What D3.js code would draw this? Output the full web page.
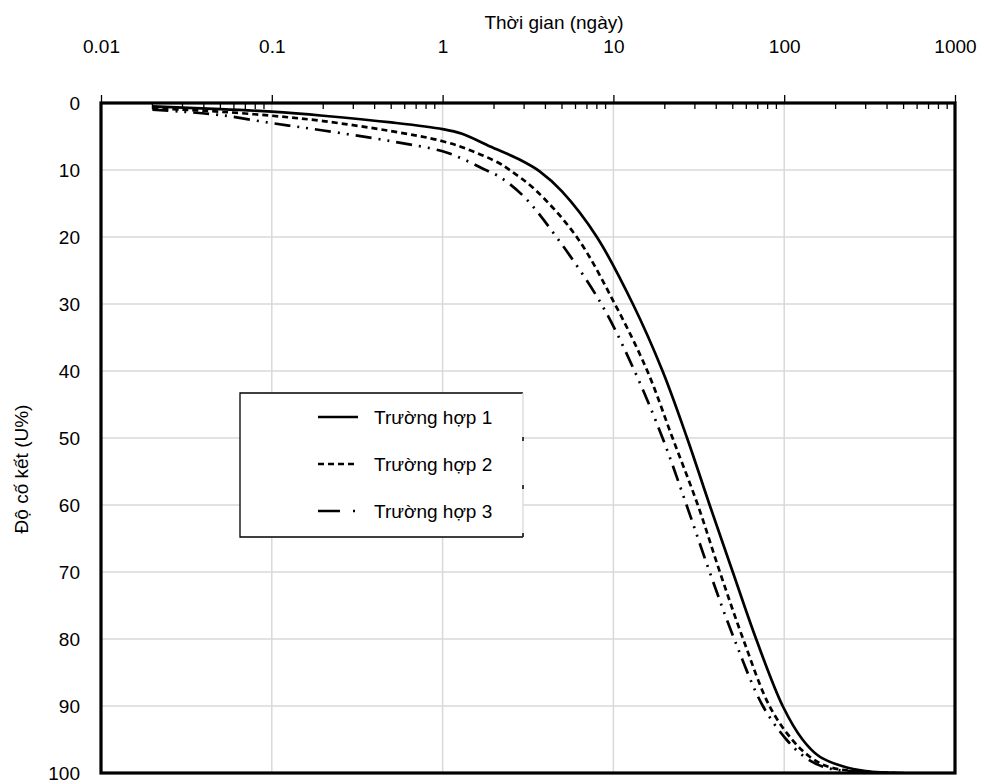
<!DOCTYPE html>
<html>
<head>
<meta charset="utf-8">
<script src="https://cdn.jsdelivr.net/npm/d3@7"></script>
<style>
  html, body { margin: 0; padding: 0; background: #fff; }
  svg text { font-family: "Liberation Sans", Arial, sans-serif; fill: #000; }
</style>
</head>
<body>
<svg id="chart" width="984" height="784"></svg>
<script>
// Consolidation degree U (%) versus time (days), three cases
const seriesNames = ["Trường hợp 1", "Trường hợp 2", "Trường hợp 3"];

const timeCase1 = [0.02, 0.03, 0.05, 0.1, 0.2, 0.5, 1, 1.3, 1.9, 2.8, 3.7, 5, 8, 13, 19.4, 27, 36.6, 50, 68.5, 98, 128, 160, 220, 300, 500];
const uCase1    = [0.5, 0.7, 0.9, 1.3, 1.9, 2.9, 3.9, 4.6, 6.5, 8.4, 10.2, 13.2, 20, 30, 40, 50, 60, 70, 80, 90, 95, 97.5, 99, 99.7, 100];

const timeCase2 = [0.02, 0.03, 0.05, 0.1, 0.2, 0.5, 1, 1.5, 2.15, 2.47, 3.5, 6.1, 10.2, 15.8, 22.2, 31.2, 42, 57.5, 82, 111, 140, 178, 250, 450];
const uCase2    = [0.8, 1.0, 1.3, 1.9, 2.7, 4.2, 5.7, 7.2, 9.0, 10, 13, 20, 30, 40, 50, 60, 70, 80, 90, 95, 97.5, 99, 99.7, 100];

const timeCase3 = [0.02, 0.03, 0.05, 0.1, 0.2, 0.5, 1, 1.3, 1.69, 2.15, 3, 4.64, 8.5, 13.3, 19.4, 26.8, 36.6, 51, 75, 103, 130, 166, 230, 400];
const uCase3    = [1.0, 1.3, 1.8, 3.0, 4.1, 5.7, 7.2, 8.3, 9.7, 11.0, 14, 20, 30, 40, 50, 60, 70, 80, 90, 95, 97.5, 99, 99.7, 100];

const xTickValues = [0.01, 0.1, 1, 10, 100, 1000];
const xTickLabels = ["0.01", "0.1", "1", "10", "100", "1000"];
const yTickValues = [0, 10, 20, 30, 40, 50, 60, 70, 80, 90, 100];

const xTitle = "Thời gian (ngày)";
const yTitle = "Độ cố kết (U%)";

const series = [
  { name: seriesNames[0], t: timeCase1, u: uCase1, dash: null },
  { name: seriesNames[1], t: timeCase2, u: uCase2, dash: "6,4" },
  { name: seriesNames[2], t: timeCase3, u: uCase3, dash: "16,7,2,7,2,7" }
];

const svg = d3.select("#chart");
const plotLeft = 101, plotRight = 955, plotTop = 103, plotBottom = 773;

const x = d3.scaleLog().domain([0.01, 1000]).range([plotLeft, plotRight]);
const y = d3.scaleLinear().domain([0, 100]).range([plotTop, plotBottom]);

// grid
const grid = svg.append("g").attr("stroke", "#d9d9d9").attr("stroke-width", 1.5);
xTickValues.slice(1, -1).forEach(v => {
  grid.append("line").attr("x1", x(v)).attr("x2", x(v)).attr("y1", plotTop).attr("y2", plotBottom);
});
yTickValues.slice(1, -1).forEach(v => {
  grid.append("line").attr("x1", plotLeft).attr("x2", plotRight).attr("y1", y(v)).attr("y2", y(v));
});

// top axis: major ticks outward, minor ticks inward
const minorTicks = [];
for (let d = 0.01; d < 999; d *= 10) {
  for (let k = 2; k <= 9; k++) minorTicks.push(d * k);
}
svg.append("g").selectAll("line.minor").data(minorTicks).join("line")
  .attr("x1", d => x(d)).attr("x2", d => x(d))
  .attr("y1", plotTop).attr("y2", plotTop + 6)
  .attr("stroke", "#000").attr("stroke-width", 1.3);

const xAxis = d3.axisTop(x)
  .tickValues(xTickValues)
  .tickFormat((d, i) => xTickLabels[i])
  .tickSize(8).tickPadding(42);
const gx = svg.append("g").attr("transform", `translate(0,${plotTop})`).call(xAxis);
gx.select(".domain").remove();
gx.selectAll(".tick line").attr("stroke", "#000").attr("stroke-width", 1.3);
gx.selectAll(".tick text").attr("font-size", 19).attr("font-family", "Liberation Sans, Arial, sans-serif");

const yAxis = d3.axisLeft(y).tickValues(yTickValues).tickSize(0).tickPadding(21);
const gy = svg.append("g").attr("transform", `translate(${plotLeft},0)`).call(yAxis);
gy.select(".domain").remove();
gy.selectAll(".tick text").attr("font-size", 19).attr("font-family", "Liberation Sans, Arial, sans-serif");

// curves
const line = d3.line()
  .x(d => x(d[0]))
  .y(d => y(d[1]))
  .curve(d3.curveCatmullRom.alpha(0.5));

svg.append("defs").append("clipPath").attr("id", "plotClip")
  .append("rect").attr("x", plotLeft).attr("y", plotTop - 2)
  .attr("width", plotRight - plotLeft).attr("height", plotBottom - plotTop + 2);

const curves = svg.append("g").attr("clip-path", "url(#plotClip)");
series.forEach(s => {
  const pts = s.t.map((t, i) => [t, s.u[i]]);
  curves.append("path")
    .attr("d", line(pts))
    .attr("fill", "none")
    .attr("stroke", "#000")
    .attr("stroke-width", 2.7)
    .attr("stroke-dasharray", s.dash);
});

// plot frame
svg.append("rect")
  .attr("x", plotLeft).attr("y", plotTop)
  .attr("width", plotRight - plotLeft).attr("height", plotBottom - plotTop)
  .attr("fill", "none").attr("stroke", "#000").attr("stroke-width", 3.2);

// axis titles
svg.append("text")
  .attr("x", 554).attr("y", 29)
  .attr("text-anchor", "middle").attr("font-size", 19)
  .text(xTitle);

svg.append("text")
  .attr("transform", `translate(28,469) rotate(-90)`)
  .attr("text-anchor", "middle").attr("font-size", 19)
  .text(yTitle);

// legend
const lg = svg.append("g");
const lx0 = 240, ly0 = 393, lx1 = 523, ly1 = 537;
lg.append("rect").attr("x", lx0).attr("y", ly0).attr("width", lx1 - lx0).attr("height", ly1 - ly0)
  .attr("fill", "#fff").attr("stroke", "none");
lg.append("path")
  .attr("d", `M${lx1},${ly0}H${lx0}V${ly1}H${lx1}`)
  .attr("fill", "none").attr("stroke", "#000").attr("stroke-width", 1.3);
lg.append("line").attr("x1", lx1).attr("x2", lx1).attr("y1", ly0).attr("y2", ly1)
  .attr("stroke", "#d9d9d9").attr("stroke-width", 1.3);
[437, 485, 533].forEach(yy => {
  lg.append("line").attr("x1", lx1).attr("x2", lx1).attr("y1", yy).attr("y2", yy + 4)
    .attr("stroke", "#000").attr("stroke-width", 1.5);
});

const rowY = [417, 464, 511];
series.forEach((s, i) => {
  lg.append("line")
    .attr("x1", 318).attr("x2", 358).attr("y1", rowY[i]).attr("y2", rowY[i])
    .attr("stroke", "#000").attr("stroke-width", 2.7)
    .attr("stroke-dasharray", i === 1 ? "6,4" : (i === 2 ? "22,13,2,40" : null));
  lg.append("text")
    .attr("x", 374).attr("y", rowY[i] + 7)
    .attr("font-size", 19)
    .text(s.name);
});
</script>
</body>
</html>
